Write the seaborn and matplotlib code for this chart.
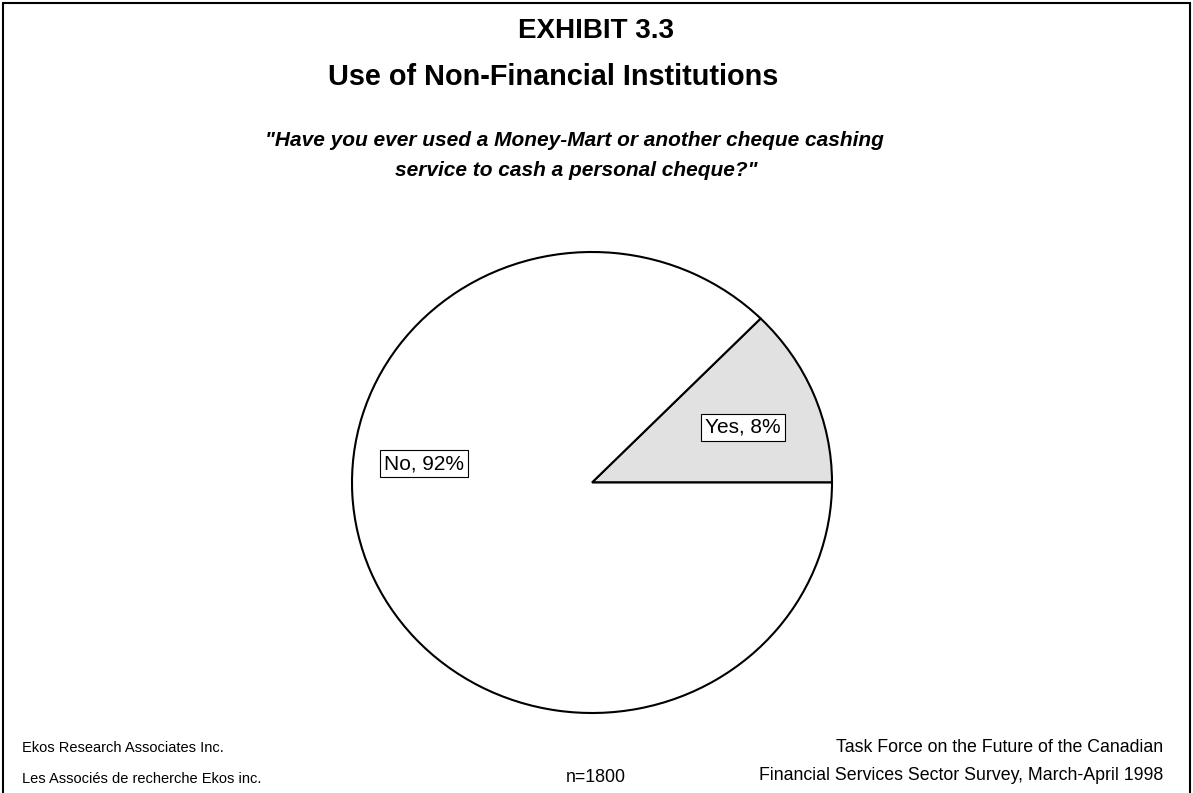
import matplotlib
matplotlib.use("Agg")
import matplotlib.pyplot as plt
import seaborn as sns
from matplotlib.patches import Rectangle

# data
categories = ["Yes", "No"]
label_pct = [8, 92]          # percentages printed on the chart
wedge_share = [12.6, 87.4]   # share of the circle each wedge actually covers
wedge_colors = ["#e1e1e1", "#ffffff"]

sns.set_theme(style="white")
plt.rcParams['font.family'] = ['Liberation Sans', 'DejaVu Sans']
plt.rcParams['text.color'] = 'black'

W, H = 1193, 793
fig = plt.figure(figsize=(W / 100, H / 100), dpi=100)

# pie is slightly wider than tall in the original: 480 x 461 px box
left, top, right, bottom = 352, 252, 832, 713
ax = fig.add_axes([left / W, 1 - bottom / H, (right - left) / W, (bottom - top) / H])
wedges, _ = ax.pie(wedge_share, colors=wedge_colors, startangle=0, counterclock=True,
                   radius=1.0, wedgeprops=dict(edgecolor="black", linewidth=1.5))
for w in wedges:
    w.set_clip_on(False)
ax.set_xlim(-1, 1)
ax.set_ylim(-1, 1)
ax.set_aspect("auto")
ax.axis("off")

# label boxes
label_pos = {"Yes": (0.63, 0.24), "No": (-0.70, 0.082)}
for cat, pct in zip(categories, label_pct):
    x, y = label_pos[cat]
    ax.text(x, y, f"{cat}, {pct}%", ha="center", va="center", fontsize=15,
            bbox=dict(boxstyle="square,pad=0.2", facecolor="white", edgecolor="black", linewidth=0.8))

# titles
fig.text(596 / W, 1 - 31 / H, "EXHIBIT 3.3", ha="center", va="center", fontsize=20, fontweight="bold")
fig.text(553 / W, 1 - 77 / H, "Use of Non-Financial Institutions", ha="center", va="center",
         fontsize=20.8, fontweight="bold")
fig.text(574 / W, 1 - 140 / H, "\"Have you ever used a Money-Mart or another cheque cashing",
         ha="center", va="center", fontsize=15, fontweight="bold", fontstyle="italic")
fig.text(576 / W, 1 - 170 / H, "service to cash a personal cheque?\"",
         ha="center", va="center", fontsize=15, fontweight="bold", fontstyle="italic")

# footer
fig.text(22 / W, 1 - 748 / H, "Ekos Research Associates Inc.", ha="left", va="center", fontsize=10.5)
fig.text(22 / W, 1 - 779 / H, "Les Associés de recherche Ekos inc.", ha="left", va="center", fontsize=10.5)
fig.text(596 / W, 1 - 777 / H, "n=1800", ha="center", va="center", fontsize=12.8)
fig.text(1163 / W, 1 - 748 / H, "Task Force on the Future of the Canadian", ha="right", va="center",
         fontsize=12.8)
fig.text(1163 / W, 1 - 776 / H, "Financial Services Sector Survey, March-April 1998", ha="right", va="center",
         fontsize=12.8)

# outer frame
fig.patches.append(Rectangle((3 / W, -0.01), 1 - 6 / W, 1 - 3 / H + 0.01, transform=fig.transFigure,
                             fill=False, edgecolor="black", linewidth=1.5))

fig.savefig("out.png", dpi=100)
